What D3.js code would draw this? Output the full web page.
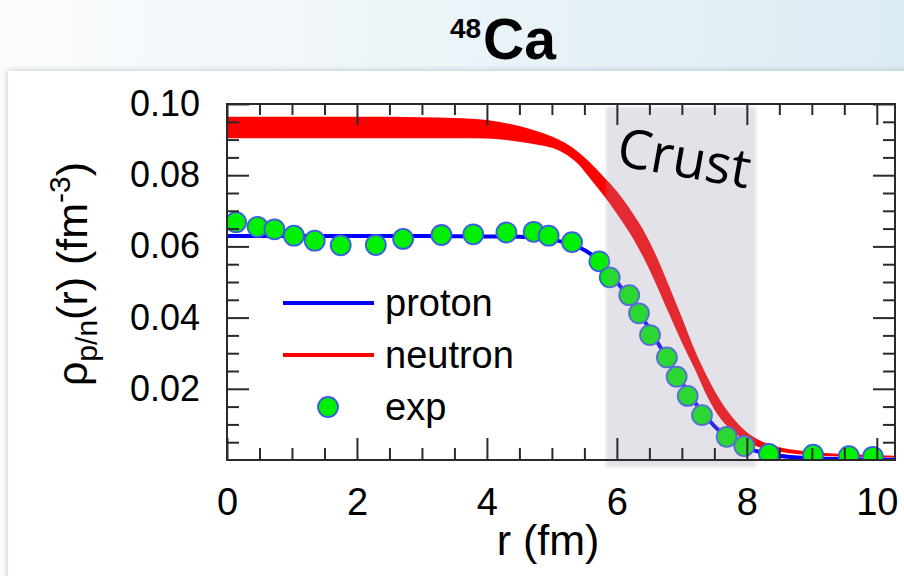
<!DOCTYPE html>
<html><head><meta charset="utf-8">
<script src="https://cdn.jsdelivr.net/npm/d3@7"></script>
<style>html,body{margin:0;padding:0;background:#fff;} svg{display:block;}</style>
</head><body>
<script>
// ---------- DATA ----------
const expR   = [0.14, 0.47, 0.73, 1.03, 1.35, 1.75, 2.29, 2.71, 3.30, 3.79, 4.30, 4.72, 4.95, 5.31, 5.73, 5.89, 6.19, 6.34, 6.51, 6.77, 6.92, 7.09, 7.31, 7.69, 7.96, 8.34, 9.02, 9.57, 9.94];
const expRho = [0.0668, 0.0655, 0.0648, 0.0630, 0.0616, 0.0603, 0.0604, 0.0621, 0.0632, 0.0634, 0.0639, 0.0641, 0.0630, 0.0612, 0.0558, 0.0513, 0.0463, 0.0412, 0.0351, 0.0288, 0.0234, 0.0180, 0.0126, 0.0065, 0.0039, 0.0017, 0.0015, 0.0011, 0.0009];

const protonR   = [0, 1, 2, 3, 4, 4.5, 4.8, 5.0, 5.2, 5.4, 5.6, 5.8, 6.0, 6.2, 6.4, 6.6, 6.8, 7.0, 7.2, 7.4, 7.6, 7.8, 8.0, 8.2, 8.5, 9.0, 9.5, 10.0, 10.28];
const protonRho = [0.0629, 0.0629, 0.0629, 0.0629, 0.0628, 0.0627, 0.0624, 0.0619, 0.0611, 0.0599, 0.0578, 0.0545, 0.0500, 0.0452, 0.0398, 0.0338, 0.0278, 0.0218, 0.0162, 0.0115, 0.0078, 0.0052, 0.0034, 0.0022, 0.0012, 0.0005, 0.0002, 0.0001, 0.0001];

const neutronR     = [0, 1, 2, 3, 3.5, 4.0, 4.5, 4.8, 5.0, 5.2, 5.4, 5.6, 5.8, 6.0, 6.2, 6.4, 6.6, 6.8, 7.0, 7.2, 7.4, 7.6, 7.8, 8.0, 8.2, 8.5, 8.8, 9.2, 9.6, 10.0, 10.28];
const neutronUpper = [0.0964, 0.0964, 0.0964, 0.0963, 0.0961, 0.0955, 0.0938, 0.0922, 0.0909, 0.0891, 0.0866, 0.0833, 0.0795, 0.0755, 0.0705, 0.0648, 0.0576, 0.0490, 0.0400, 0.0308, 0.0230, 0.0165, 0.0115, 0.0078, 0.0055, 0.0036, 0.0027, 0.0020, 0.0016, 0.0013, 0.0012];
const neutronLower = [0.0904, 0.0904, 0.0904, 0.0904, 0.0904, 0.0903, 0.0894, 0.0885, 0.0877, 0.0860, 0.0832, 0.0788, 0.0742, 0.0692, 0.0637, 0.0572, 0.0495, 0.0412, 0.0330, 0.0255, 0.0175, 0.0115, 0.0078, 0.0052, 0.0035, 0.0023, 0.0016, 0.0011, 0.0009, 0.0008, 0.0007];

const crustRange = [5.83, 8.14];
const xDomain = [0, 10.28];
const yDomain = [0, 0.10];
const xMajorTicks = [0, 2, 4, 6, 8, 10];
const xTickLabels = ["0", "2", "4", "6", "8", "10"];
const yMajorTicks = [0.02, 0.04, 0.06, 0.08, 0.10];
const yTickLabels = ["0.02", "0.04", "0.06", "0.08", "0.10"];
const legendLabels = ["proton", "neutron", "exp"];

// ---------- SETUP ----------
const W = 904, H = 576;
const svg = d3.select("body").append("svg").attr("width", W).attr("height", H);
const defs = svg.append("defs");

const bg = defs.append("linearGradient").attr("id", "bgGrad")
  .attr("x1", "0").attr("x2", "1").attr("y1", "0").attr("y2", "0");
bg.append("stop").attr("offset", "0").attr("stop-color", "#fbfcfd");
bg.append("stop").attr("offset", "1").attr("stop-color", "#dcecf3");
svg.append("rect").attr("width", W).attr("height", H).attr("fill", "url(#bgGrad)");

const sh = defs.append("filter").attr("id", "shadow")
  .attr("x", "-5%").attr("y", "-5%").attr("width", "110%").attr("height", "110%");
sh.append("feDropShadow").attr("dx", 0).attr("dy", 0).attr("stdDeviation", 3)
  .attr("flood-color", "#8c9aa2").attr("flood-opacity", 0.6);
svg.append("rect").attr("x", 8).attr("y", 71).attr("width", W).attr("height", H)
  .attr("fill", "#fff").attr("filter", "url(#shadow)");

const blur = defs.append("filter").attr("id", "soft")
  .attr("x", "-10%").attr("y", "-10%").attr("width", "120%").attr("height", "120%");
blur.append("feGaussianBlur").attr("stdDeviation", 1.5);

// Title
svg.append("text").attr("x", 450).attr("y", 38)
  .attr("font-family", "'Liberation Sans', Arial, sans-serif").attr("font-weight", "bold")
  .attr("font-size", 28).attr("fill", "#000").text("48");
svg.append("text").attr("x", 483).attr("y", 59)
  .attr("font-family", "'Liberation Sans', Arial, sans-serif").attr("font-weight", "bold")
  .attr("font-size", 57).attr("fill", "#000").text("Ca");

// Scales
const x = d3.scaleLinear().domain(xDomain).range([227, 895]);
const y = d3.scaleLinear().domain(yDomain).range([460, 104]);

defs.append("clipPath").attr("id", "plotClip").append("rect")
  .attr("x", x(xDomain[0])).attr("y", y(yDomain[1]))
  .attr("width", x(xDomain[1]) - x(xDomain[0])).attr("height", y(yDomain[0]) - y(yDomain[1]));

const plot = svg.append("g").attr("clip-path", "url(#plotClip)");

// Neutron band
const nData = neutronR.map((r, i) => ({ r, hi: neutronUpper[i], lo: neutronLower[i] }));
plot.append("path").datum(nData)
  .attr("d", d3.area().x(d => x(d.r)).y0(d => y(d.lo)).y1(d => y(d.hi)).curve(d3.curveMonotoneX))
  .attr("fill", "#ff0000");

// Proton line
const pData = protonR.map((r, i) => ({ r, v: protonRho[i] }));
plot.append("path").datum(pData)
  .attr("d", d3.line().x(d => x(d.r)).y(d => y(d.v)).curve(d3.curveMonotoneX))
  .attr("fill", "none").attr("stroke", "#0000ff").attr("stroke-width", 4);

// Exp points
const eData = expR.map((r, i) => ({ r, v: expRho[i] }));
plot.selectAll("circle.exp").data(eData).join("circle")
  .attr("class", "exp")
  .attr("cx", d => x(d.r)).attr("cy", d => y(d.v)).attr("r", 10)
  .attr("fill", "#00f000").attr("stroke", "#3b5de6").attr("stroke-width", 1.8);

// Crust shaded region
svg.append("rect")
  .attr("x", x(crustRange[0])).attr("y", y(0.0992))
  .attr("width", x(crustRange[1]) - x(crustRange[0]))
  .attr("height", y(-0.002) - y(0.0992))
  .attr("fill", "rgb(155,150,175)").attr("fill-opacity", 0.28)
  .attr("filter", "url(#soft)");

svg.append("text")
  .attr("x", 615).attr("y", 165)
  .attr("transform", "rotate(10,615,165)")
  .attr("font-family", "'Open Sans', 'Noto Sans', sans-serif")
  .attr("font-size", 54).attr("fill", "#000").text("Crust");

// Axes
const axisColor = "#2a2a2a";
const font = "'Liberation Sans', Arial, Helvetica, sans-serif";
const xMinor = d3.range(0.5, xDomain[1], 0.5).filter(v => Math.abs(v % 2) > 1e-9);
const yMinor = d3.range(0.005, yDomain[1], 0.005).filter(v => Math.abs(Math.round(v * 1000) % 20) !== 0);

function styleAxis(g) {
  g.select(".domain").remove();
  g.selectAll(".tick line").attr("stroke", axisColor).attr("stroke-width", 2);
  g.selectAll(".tick text").attr("fill", "#000").attr("font-family", font);
}

const gB = svg.append("g").attr("transform", `translate(0,${y(0)})`)
  .call(d3.axisBottom(x).tickValues(xMajorTicks).tickFormat((d, i) => xTickLabels[i]).tickSize(-22).tickPadding(28))
  .call(styleAxis);
gB.selectAll(".tick text").attr("font-size", 38);
svg.append("g").attr("transform", `translate(0,${y(0)})`)
  .call(d3.axisBottom(x).tickValues(xMinor).tickFormat("").tickSize(-12)).call(styleAxis);

svg.append("g").attr("transform", `translate(0,${y(yDomain[1])})`)
  .call(d3.axisTop(x).tickValues(xMajorTicks).tickFormat("").tickSize(-21)).call(styleAxis);
svg.append("g").attr("transform", `translate(0,${y(yDomain[1])})`)
  .call(d3.axisTop(x).tickValues(xMinor).tickFormat("").tickSize(-11)).call(styleAxis);

const gL = svg.append("g").attr("transform", `translate(${x(0)},0)`)
  .call(d3.axisLeft(y).tickValues(yMajorTicks).tickFormat((d, i) => yTickLabels[i]).tickSize(-22).tickPadding(27))
  .call(styleAxis);
gL.selectAll(".tick text").attr("font-size", 36);
svg.append("g").attr("transform", `translate(${x(0)},0)`)
  .call(d3.axisLeft(y).tickValues(yMinor).tickFormat("").tickSize(-12)).call(styleAxis);

svg.append("g").attr("transform", `translate(${x(xDomain[1])},0)`)
  .call(d3.axisRight(y).tickValues(yMajorTicks).tickFormat("").tickSize(-22)).call(styleAxis);
svg.append("g").attr("transform", `translate(${x(xDomain[1])},0)`)
  .call(d3.axisRight(y).tickValues(yMinor).tickFormat("").tickSize(-12)).call(styleAxis);

// Frame
svg.append("rect")
  .attr("x", x(xDomain[0])).attr("y", y(yDomain[1]))
  .attr("width", x(xDomain[1]) - x(xDomain[0])).attr("height", y(yDomain[0]) - y(yDomain[1]))
  .attr("fill", "none").attr("stroke", axisColor).attr("stroke-width", 2);

// Axis titles
svg.append("text").attr("x", 548).attr("y", 555).attr("text-anchor", "middle")
  .attr("font-family", font).attr("font-size", 43).attr("fill", "#000").text("r (fm)");

const yl = svg.append("text")
  .attr("transform", "translate(87,274) rotate(-90)")
  .attr("text-anchor", "middle").attr("font-family", font).attr("font-size", 43).attr("fill", "#000");
yl.append("tspan").text("ρ");
yl.append("tspan").attr("font-size", 30).attr("dy", 10).text("p/n");
yl.append("tspan").attr("dy", -10).text("(r) (fm");
yl.append("tspan").attr("font-size", 30).attr("dy", -17).text("-3");
yl.append("tspan").attr("dy", 17).text(")");

// Legend
const legY = [303, 355, 407];
const legend = svg.append("g");
legend.append("line").attr("x1", 283).attr("x2", 374).attr("y1", legY[0]).attr("y2", legY[0])
  .attr("stroke", "#0000ff").attr("stroke-width", 4);
legend.append("line").attr("x1", 283).attr("x2", 374).attr("y1", legY[1]).attr("y2", legY[1])
  .attr("stroke", "#ff0000").attr("stroke-width", 4);
legend.append("circle").attr("cx", 328).attr("cy", legY[2]).attr("r", 10)
  .attr("fill", "#00f000").attr("stroke", "#3b5de6").attr("stroke-width", 1.8);
legend.selectAll("text").data(legendLabels).join("text")
  .attr("x", 385).attr("y", (d, i) => legY[i]).attr("dy", "0.35em")
  .attr("font-family", font).attr("font-size", 38).attr("fill", "#000").text(d => d);
</script>
</body></html>
